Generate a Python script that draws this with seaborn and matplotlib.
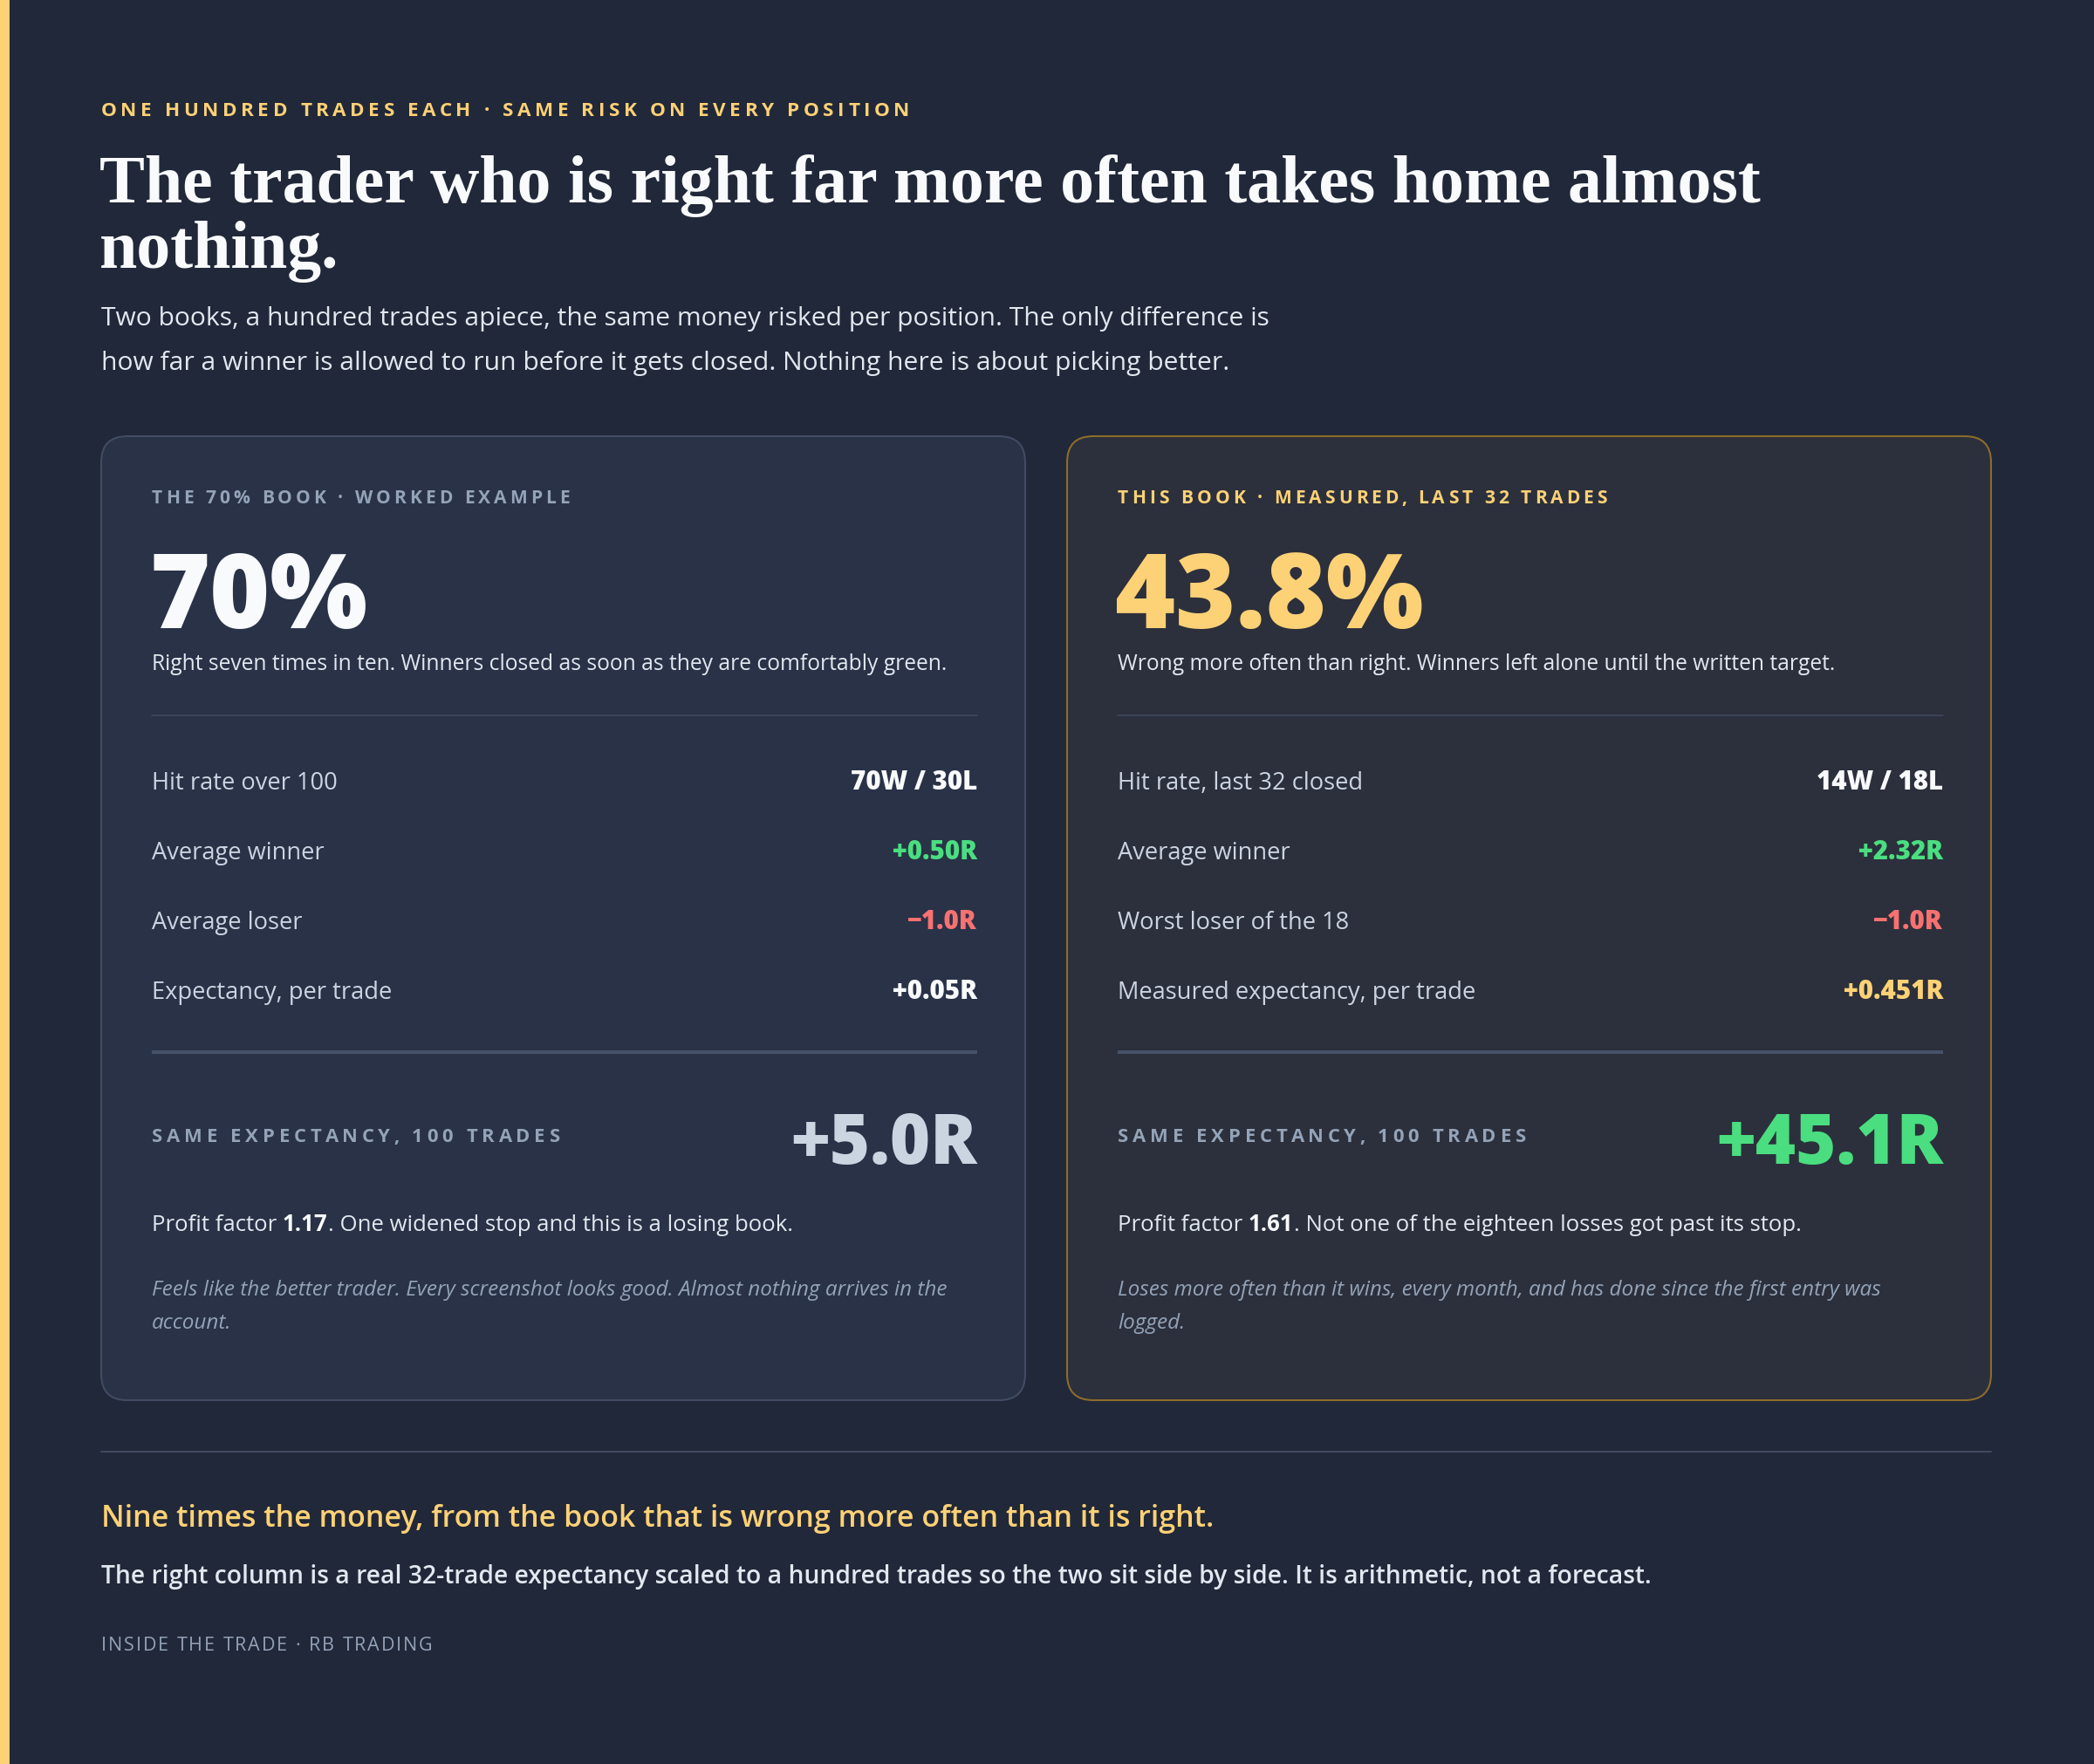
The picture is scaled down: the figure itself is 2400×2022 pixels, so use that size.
import matplotlib
matplotlib.use("Agg")
import matplotlib.pyplot as plt
from matplotlib.patches import FancyBboxPatch, Rectangle
import seaborn as sns

sns.set_theme(style="white")
plt.rcParams['font.family'] = ['Open Sans', 'DejaVu Sans']

# ---------------- data ----------------
eyebrow = "ONE HUNDRED TRADES EACH · SAME RISK ON EVERY POSITION"
title_lines = ["The trader who is right far more often takes home almost", "nothing."]
subtitle_lines = ["Two books, a hundred trades apiece, the same money risked per position. The only difference is",
                  "how far a winner is allowed to run before it gets closed. Nothing here is about picking better."]

card_labels = ["THE 70% BOOK · WORKED EXAMPLE", "THIS BOOK · MEASURED, LAST 32 TRADES"]
hit_rates = ["70%", "43.8%"]
card_descs = ["Right seven times in ten. Winners closed as soon as they are comfortably green.",
              "Wrong more often than right. Winners left alone until the written target."]
row_labels = [["Hit rate over 100", "Average winner", "Average loser", "Expectancy, per trade"],
              ["Hit rate, last 32 closed", "Average winner", "Worst loser of the 18", "Measured expectancy, per trade"]]
row_values = [["70W / 30L", "+0.50R", "\u22121.0R", "+0.05R"],
              ["14W / 18L", "+2.32R", "\u22121.0R", "+0.451R"]]
total_label = "SAME EXPECTANCY, 100 TRADES"
totals = ["+5.0R", "+45.1R"]
profit_factors = ["1.17", "1.61"]
pf_tails = [". One widened stop and this is a losing book.",
            ". Not one of the eighteen losses got past its stop."]
notes = [["Feels like the better trader. Every screenshot looks good. Almost nothing arrives in the", "account."],
         ["Loses more often than it wins, every month, and has done since the first entry was", "logged."]]
takeaway = "Nine times the money, from the book that is wrong more often than it is right."
explainer = "The right column is a real 32-trade expectancy scaled to a hundred trades so the two sit side by side. It is arithmetic, not a forecast."
footer = "INSIDE THE TRADE · RB TRADING"

# ---------------- style ----------------
BG = "#212839"
GOLD = "#fdd176"
GREEN = "#4ade80"
RED = "#f87171"
WHITE = "#f8fafc"
BODY = "#e2e8f0"
MUTED = "#94a3b8"
LINE = "#3f4a5f"
card_fill = ["#293247", "#2c303c"]
card_edge = ["#414c63", "#8c6c2c"]
label_col = [MUTED, GOLD]
big_col = [WHITE, GOLD]
total_col = ["#cbd5e1", GREEN]
value_cols = [[WHITE, GREEN, RED, WHITE], [WHITE, GREEN, RED, GOLD]]

W, H = 2400, 2022
PT = 72 / 100.0  # px -> pt

fig = plt.figure(figsize=(W / 100, H / 100), dpi=100)
fig.patch.set_facecolor(BG)
ax = fig.add_axes([0, 0, 1, 1])
ax.set_xlim(0, W)
ax.set_ylim(H, 0)
ax.axis('off')
ax.set_facecolor(BG)
R = fig.canvas.get_renderer()

_meas = ax.text(0, 0, "", alpha=0)


def width(s, **kw):
    _meas.set_text(s)
    _meas.set_fontsize(kw.get('fontsize', 12))
    _meas.set_fontweight(kw.get('fontweight', 'normal'))
    _meas.set_fontstyle(kw.get('fontstyle', 'normal'))
    _meas.set_fontfamily(kw.get('fontfamily', plt.rcParams['font.family']))
    return _meas.get_window_extent(R).width


def tracked(x, y, s, track, **kw):
    wH = width("H", **kw)
    for i, ch in enumerate(s):
        if ch == ' ':
            continue
        xi = x + (width(s[:i] + "H", **kw) - wH if i else 0) + i * track
        ax.text(xi, y, ch, **kw)


def runs(x, y, parts, **common):
    for txt, extra in parts:
        kw = dict(common)
        kw.update(extra)
        ax.text(x, y, txt, **kw)
        x += width(txt + "H", **kw) - width("H", **kw)


def px(v):
    return v * PT


# left accent bar
ax.add_patch(Rectangle((0, 0), 11, H, color=GOLD, lw=0))

# header
tracked(116, 133, eyebrow, 4.55, fontsize=px(22.5), fontweight='bold', color=GOLD, va='baseline')
serif = ['Liberation Serif', 'DejaVu Serif']
tsize = px(80)
tw = width(title_lines[0], fontsize=tsize, fontweight='bold', fontfamily=serif)
tsize = tsize * 1904.0 / tw
for i, line in enumerate(title_lines):
    ax.text(114, 232 + i * 75, line, fontsize=tsize, fontweight='bold', color=WHITE,
            va='baseline', fontfamily=serif)
for i, line in enumerate(subtitle_lines):
    ax.text(116, 373 + i * 51, line, fontsize=px(30), color=BODY, va='baseline')

# cards
card_x = [116, 1223]
cw, cy, ch_ = 1059, 500, 1105
for k in range(2):
    x0 = card_x[k]
    ax.add_patch(FancyBboxPatch((x0, cy), cw, ch_, boxstyle="round,pad=0,rounding_size=30",
                                fc=card_fill[k], ec=card_edge[k], lw=1.5))
    L = x0 + 58
    Rr = x0 + cw - 55
    tracked(L, 577, card_labels[k], 4.0, fontsize=px(21), fontweight='bold', color=label_col[k], va='baseline')
    ax.text(L - 3, 720, hit_rates[k], fontsize=px(118), fontweight=800, color=big_col[k], va='baseline')
    ax.text(L, 768, card_descs[k], fontsize=px(24.6), color=BODY, va='baseline')
    ax.plot([L, Rr], [820, 820], color=LINE, lw=1.6 * PT)
    for j in range(4):
        yb = 905 + j * 80
        ax.text(L, yb, row_labels[k][j], fontsize=px(27.2), color="#cbd5e1", va='baseline')
        ax.text(Rr, yb, row_values[k][j], fontsize=px(29.5), fontweight=800,
                color=value_cols[k][j], ha='right', va='baseline')
    ax.plot([L, Rr], [1206, 1206], color="#465269", lw=4 * PT, solid_capstyle='butt')
    tracked(L, 1309, total_label, 4.8, fontsize=px(22), fontweight='bold', color=MUTED, va='baseline')
    ax.text(Rr, 1334, totals[k], fontsize=px(79), fontweight=800, color=total_col[k],
            ha='right', va='baseline')
    runs(L, 1411, [("Profit factor ", {}), (profit_factors[k], {'fontweight': 'bold', 'color': WHITE}),
                   (pf_tails[k], {})], fontsize=px(25.8), color=BODY, va='baseline')
    for i, ln in enumerate(notes[k]):
        ax.text(L, 1485 + i * 38, ln, fontsize=px(24.3), fontstyle='italic', color=MUTED, va='baseline')

# footer section
ax.plot([116, 2282], [1664, 1664], color=LINE, lw=2 * PT)
ax.text(116, 1750, takeaway, fontsize=px(34), fontweight=600, color=GOLD, va='baseline')
ax.text(116, 1815, explainer, fontsize=px(28.3), fontweight=600, color=BODY, va='baseline')
tracked(116, 1892, footer, 1.9, fontsize=px(21.5), color=MUTED, va='baseline')

fig.savefig("out.png", dpi=100, facecolor=BG)
